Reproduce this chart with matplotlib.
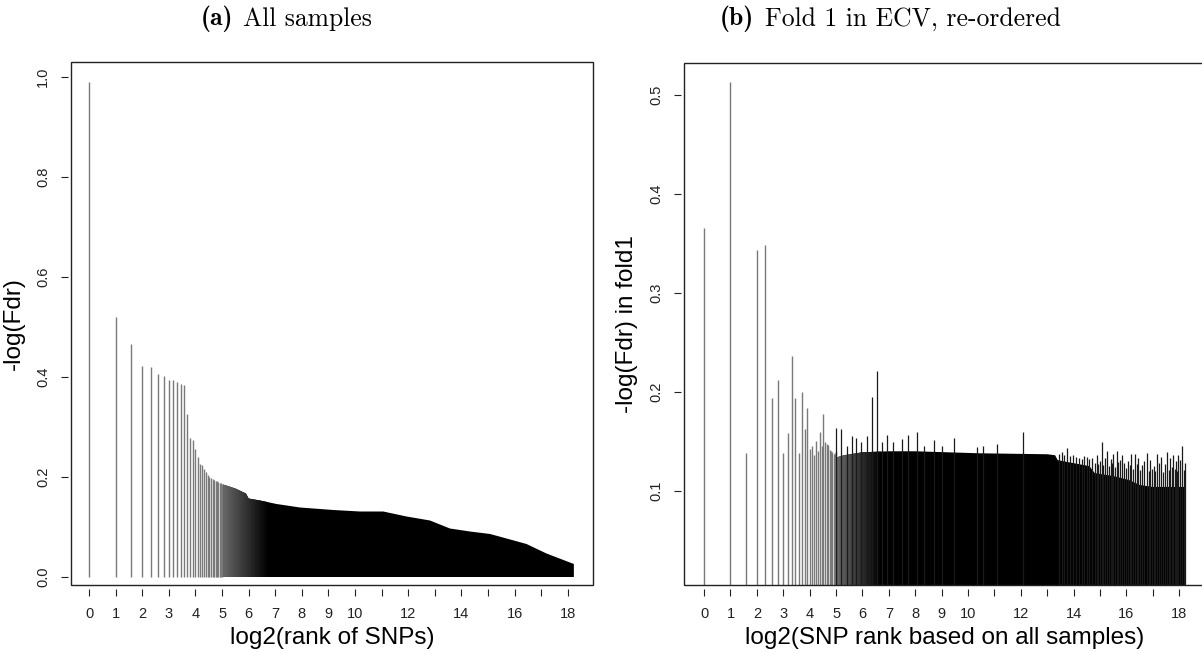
import numpy as np
import matplotlib.pyplot as plt
from matplotlib.patches import Rectangle
from matplotlib.colors import LinearSegmentedColormap

plt.rcParams['font.family'] = ['Liberation Sans', 'DejaVu Sans']

# (a) all samples: first 32 ranks drawn one by one
rank_a = np.arange(1, 33)
fdr_a = [0.99, 0.52, 0.467, 0.423, 0.421, 0.406, 0.403, 0.395, 0.394, 0.39,
         0.387, 0.385, 0.327, 0.279, 0.275, 0.257, 0.241, 0.226, 0.224, 0.217,
         0.211, 0.204, 0.201, 0.199, 0.197, 0.195, 0.193, 0.192, 0.19, 0.189,
         0.188, 0.186]
# the remaining ~300k SNPs: upper edge of the solid block (x = log2 rank)
edge_a_x = [5.04, 5.5, 5.9, 6.0, 6.43, 7.05, 7.93, 9.19, 10.19, 11.06, 11.94,
            12.82, 13.57, 14.32, 15.08, 15.7, 16.45, 17.2, 18.23]
edge_a_y = [0.185, 0.177, 0.167, 0.157, 0.153, 0.146, 0.139, 0.134, 0.131,
            0.131, 0.121, 0.113, 0.097, 0.091, 0.086, 0.077, 0.066, 0.047, 0.026]

# (b) fold 1, ordered by the all-sample rank
rank_b = np.arange(1, 33)
fdr_b = [0.365, 0.513, 0.138, 0.343, 0.348, 0.194, 0.212, 0.138, 0.158, 0.236,
         0.194, 0.138, 0.200, 0.162, 0.184, 0.142, 0.145, 0.136, 0.150, 0.140,
         0.159, 0.145, 0.178, 0.149, 0.147, 0.146, 0.141, 0.140, 0.139, 0.137,
         0.138, 0.140]
edge_b_x = [5.04, 5.3, 6.0, 7.0, 8.0, 10.4, 13.0, 13.3, 13.4, 14.0, 14.6,
            14.8, 15.5, 16.1, 16.5, 17.0, 18.23]
edge_b_y = [0.134, 0.136, 0.139, 0.140, 0.140, 0.138, 0.137, 0.136, 0.131,
            0.128, 0.125, 0.118, 0.115, 0.111, 0.106, 0.104, 0.104]
# single lines sticking out of the block
spike_b_x = [5.0, 5.19, 5.4, 5.59, 5.76, 5.93, 6.16, 6.36, 6.55, 6.73, 6.94,
             7.15, 7.49, 7.71, 8.06, 8.33, 8.72, 9.0, 9.47, 10.33, 10.58,
             11.09, 12.07, 13.45, 13.55, 13.65, 13.74, 13.85, 13.99, 14.1,
             14.2, 14.3, 14.4, 14.5, 14.6, 14.7, 14.8, 14.87, 14.94, 15.0,
             15.06, 15.13, 15.2, 15.26, 15.33, 15.4, 15.46, 15.51, 15.58,
             15.64, 15.7, 15.76, 15.82, 15.9, 15.97, 16.05, 16.12, 16.18,
             16.26, 16.33, 16.39, 16.45, 16.52, 16.6, 16.68, 16.77, 16.84,
             16.9, 16.98, 17.05, 17.1, 17.15, 17.22, 17.3, 17.37, 17.45,
             17.53, 17.6, 17.65, 17.72, 17.78, 17.83, 17.88, 17.93, 17.97,
             18.05, 18.12, 18.17, 18.22]
spike_b_y = [0.163, 0.162, 0.145, 0.155, 0.153, 0.149, 0.155, 0.195, 0.2215,
             0.149, 0.156, 0.149, 0.152, 0.156, 0.159, 0.145, 0.151, 0.145,
             0.153, 0.144, 0.145, 0.147, 0.159, 0.137, 0.139, 0.136, 0.143,
             0.135, 0.136, 0.134, 0.133, 0.132, 0.135, 0.134, 0.132, 0.133,
             0.128, 0.136, 0.127, 0.130, 0.149, 0.126, 0.133, 0.140, 0.125,
             0.132, 0.128, 0.137, 0.124, 0.140, 0.129, 0.131, 0.136, 0.128,
             0.123, 0.130, 0.126, 0.137, 0.122, 0.137, 0.127, 0.133, 0.121,
             0.126, 0.130, 0.138, 0.120, 0.131, 0.122, 0.125, 0.120, 0.137,
             0.128, 0.134, 0.119, 0.127, 0.139, 0.121, 0.133, 0.124, 0.136,
             0.122, 0.130, 0.120, 0.136, 0.131, 0.145, 0.121, 0.128]

xticks = list(range(0, 19))
xticklabels = [str(i) if (i <= 10 or i % 2 == 0) else '' for i in xticks]

W, H = 1202, 652
fig = plt.figure(figsize=(W / 100, H / 100), dpi=100)

def px_axes(x0, x1, y0, y1):
    return fig.add_axes([x0 / W, 1 - y1 / H, (x1 - x0) / W, (y1 - y0) / H])

shade = LinearSegmentedColormap.from_list('shade', ['#6a6a6a', '#000000'])

def draw_block(ax, ex, ey, top):
    xs = list(ex) + [ex[-1], ex[0]]
    ys = list(ey) + [0, 0]
    poly = ax.fill(xs, ys, color='black', lw=0, zorder=1)[0]
    grad = np.linspace(0, 1, 256).reshape(1, -1)
    im = ax.imshow(grad, extent=(5.0, 6.7, -0.05, top), aspect='auto',
                   cmap=shade, zorder=2, interpolation='bilinear')
    im.set_clip_path(poly)

def style(ax, xlim, ylim, yticks, ylabels, xlabel, ylabel):
    ax.set_xlim(*xlim)
    ax.set_ylim(*ylim)
    for s in ax.spines.values():
        s.set_visible(False)
    ax.spines['bottom'].set_position(('outward', 3))
    ax.spines['left'].set_position(('outward', 2))
    ax.add_patch(Rectangle((0, 0), 1, 1, transform=ax.transAxes, fill=False,
                           lw=1.0, ec='#222222', clip_on=False, zorder=5))
    ax.set_xticks(xticks)
    ax.set_xticklabels(xticklabels)
    ax.set_yticks(yticks)
    ax.set_yticklabels(ylabels, rotation=90, va='center')
    ax.tick_params(direction='out', length=5, width=0.8, colors='#222222',
                   labelsize=10.5, pad=8)
    ax.set_xlabel(xlabel, fontsize=17.5, labelpad=4)
    ax.set_ylabel(ylabel, fontsize=17.5, labelpad=8)

# panel (a)
ax1 = px_axes(71, 593, 62, 585)
ax1.vlines(np.log2(rank_a), 0, fdr_a, color='#7a7a7a', lw=1.0, zorder=3)
draw_block(ax1, edge_a_x, edge_a_y, 0.2)
style(ax1, (-0.68, 18.95), (-0.016, 1.03),
      [0, 0.2, 0.4, 0.6, 0.8, 1.0], ['0.0', '0.2', '0.4', '0.6', '0.8', '1.0'],
      'log2(rank of SNPs)', '-log(Fdr)')

# panel (b)
ax2 = px_axes(684, 1204.5, 63, 585)
ax2.vlines(np.log2(rank_b), 0, fdr_b, color='#7a7a7a', lw=1.0, zorder=3)
draw_block(ax2, edge_b_x, edge_b_y, 0.15)
ax2.vlines(spike_b_x, 0, spike_b_y, color='#1a1a1a', lw=0.9, zorder=3)
style(ax2, (-0.76, 18.96), (0.005, 0.532),
      [0.1, 0.2, 0.3, 0.4, 0.5], ['0.1', '0.2', '0.3', '0.4', '0.5'],
      'log2(SNP rank based on all samples)', '-log(Fdr) in fold1')

# captions: bold tag + roman text, Computer Modern look
ty = 1 - 19 / H
fig.text(233 / W, ty, '(a)', fontfamily='cmb10', fontsize=18.5,
         ha='right', va='center')
fig.text(243 / W, ty, 'All samples', fontfamily='cmr10', fontsize=18.5,
         ha='left', va='center')
fig.text(754 / W, ty, '(b)', fontfamily='cmb10', fontsize=18.5,
         ha='right', va='center')
fig.text(765 / W, ty, 'Fold 1 in ECV, re-ordered', fontfamily='cmr10',
         fontsize=18.5, ha='left', va='center')

fig.savefig('out.png', dpi=100)
